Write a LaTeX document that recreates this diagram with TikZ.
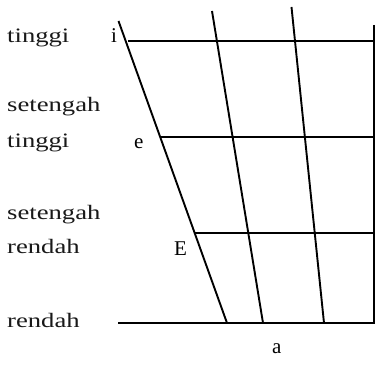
\documentclass[tikz,border=0pt]{standalone}
\usepackage{fontspec}
\setmainfont{Liberation Serif}
\tikzset{
  grid line/.style={line width=1.9pt, black},
  lbl/.style={anchor=base west, inner sep=0pt, font=\fontsize{20.5}{22}\selectfont, text=black!90},
  vowel/.style={anchor=base west, inner sep=0pt, font=\fontsize{21}{22}\selectfont, text=black}
}
\newcommand{\wide}[1]{\scalebox{1.3}[1]{#1}}
\begin{document}
\begin{tikzpicture}[x=1pt,y=-1pt]
\useasboundingbox (0,0) rectangle (375,366);
% coordinates of the grid
\coordinate (L0) at (118.5,21);
\coordinate (L4) at (227,323);
\coordinate (M0) at (212,11);
\coordinate (M4) at (263,323);
\coordinate (N0) at (291.5,7);
\coordinate (N4) at (324,323);
\coordinate (R0) at (374,25);
\coordinate (R4) at (374,323);
\coordinate (h1a) at (128,41);
\coordinate (h1b) at (373,41);
\coordinate (h2a) at (161,137);
\coordinate (h2b) at (373,137);
\coordinate (h3a) at (194.5,233);
\coordinate (h3b) at (373,233);
\coordinate (h4a) at (118,323);
\coordinate (h4b) at (375,323);
% lines
\draw[grid line] (L0) -- (L4);
\draw[grid line] (M0) -- (M4);
\draw[grid line] (N0) -- (N4);
\draw[grid line] (R0) -- (R4);
\draw[grid line] (h1a) -- (h1b);
\draw[grid line] (h2a) -- (h2b);
\draw[grid line] (h3a) -- (h3b);
\draw[grid line] (h4a) -- (h4b);
% labels
\node[lbl] (t1) at (7,43) {\wide{tinggi}};
\node[lbl] (s1) at (7,112) {\wide{setengah}};
\node[lbl] (t2) at (7,148) {\wide{tinggi}};
\node[lbl] (s2) at (7,220) {\wide{setengah}};
\node[lbl] (r1) at (7,254) {\wide{rendah}};
\node[lbl] (r2) at (7,327) {\wide{rendah}};
% vowels
\node[vowel] (vi) at (111,43) {i};
\node[vowel] (ve) at (134,149) {e};
\node[vowel] (vE) at (174,255) {E};
\node[vowel] (va) at (272,353) {a};
\end{tikzpicture}
\end{document}
